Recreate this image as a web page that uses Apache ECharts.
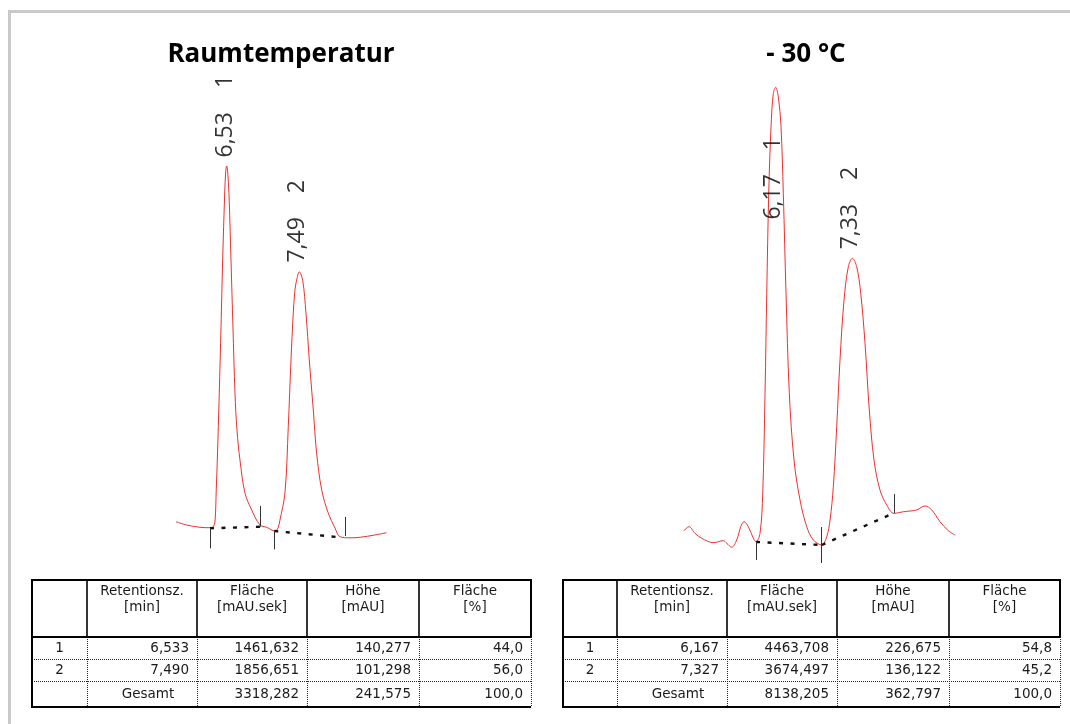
<!DOCTYPE html>
<html>
<head>
<meta charset="utf-8">
<script src="https://cdn.jsdelivr.net/npm/echarts@6/dist/echarts.min.js"></script>
<style>
  html, body { margin: 0; padding: 0; background: #fff; }
  #chart { width: 1070px; height: 724px; }
</style>
</head>
<body>
<div id="chart"></div>
<script>
// ---------- data ----------
const titles = ['Raumtemperatur', '- 30 °C'];

// chromatogram at room temperature: [time (min), signal (mAU)]
const roomTempTrace = [
  [5.859, 2.06], [6.001, 0.78], [6.177, -0.12], [6.309, -0.27], [6.349, 0.0],
  [6.375, 1.94], [6.392, 14.4], [6.406, 26.0], [6.432, 52.0], [6.455, 77.7],
  [6.477, 103.7], [6.504, 129.7], [6.517, 137.9], [6.530, 140.2], [6.543, 137.9],
  [6.560, 129.7], [6.587, 103.7], [6.613, 77.7], [6.640, 52.0], [6.666, 37.7],
  [6.706, 26.0], [6.772, 13.2], [6.861, 6.6], [6.970, 0.78], [7.059, -0.12],
  [7.169, -1.55], [7.209, -0.39], [7.235, 2.7], [7.301, 13.2], [7.345, 38.95],
  [7.381, 64.9], [7.411, 83.1], [7.433, 92.0], [7.456, 95.9], [7.490, 99.1],
  [7.535, 95.9], [7.579, 83.1], [7.623, 64.9], [7.676, 45.4], [7.720, 28.7],
  [7.787, 14.4], [7.874, 5.4], [7.963, -0.39], [8.029, -3.77], [8.161, -4.2],
  [8.293, -4.0], [8.492, -3.1], [8.646, -2.2]
];
// chromatogram at -30 °C
const coldTrace = [
  [4.778, 6.08], [4.853, 8.07], [4.944, 4.78], [5.046, 2.29], [5.222, 0.10],
  [5.373, 1.10], [5.425, -0.20], [5.500, -2.19], [5.576, 1.44], [5.637, 8.07],
  [5.687, 10.56], [5.752, 8.07], [5.828, 2.29], [5.869, 0.60], [5.929, 4.78],
  [5.970, 24.7], [6.005, 74.5], [6.031, 124.3], [6.061, 174.1], [6.096, 207.3],
  [6.131, 223.9], [6.167, 226.9], [6.206, 222.2], [6.247, 207.3], [6.282, 174.1],
  [6.323, 124.3], [6.373, 74.5], [6.444, 41.3], [6.535, 21.4], [6.637, 8.07],
  [6.737, 1.44], [6.864, -1.05], [6.940, 3.09], [6.990, 11.4], [7.040, 28.0],
  [7.091, 57.9], [7.141, 91.1], [7.202, 121.0], [7.267, 137.5], [7.328, 141.7],
  [7.394, 137.5], [7.455, 124.3], [7.520, 99.4], [7.585, 66.2], [7.656, 41.3],
  [7.747, 26.3], [7.849, 18.9], [7.959, 14.7], [8.100, 15.5], [8.303, 16.4],
  [8.429, 18.4], [8.531, 16.4], [8.656, 10.56], [8.782, 6.08], [8.884, 3.93]
];

// integration baselines: [[t1, v1], [t2, v2]]
const roomTempBaselines = [ [[6.309, -0.5], [6.970, 0.1]], [[7.160, -1.55], [8.07, -4.1]] ];
const coldBaselines = [ [[5.869, 0.45], [6.864, -1.05]], [[6.864, -1.05], [7.959, 14.9]] ];
// integration event marks: [t, v from, v to]
const roomTempMarks = [ [6.309, -0.5, -8.3], [6.970, 0.1, 8.2], [7.160, -1.55, -8.7], [8.095, -3.5, 3.9] ];
const coldMarks = [ [5.869, 0.6, -8.5], [6.864, 7.9, -10.0], [7.959, 14.9, 24.3] ];

// peak labels: [t, v, retention text, peak no.]
const roomTempLabels = [ [6.508, 143.5, '6,53', '1'], [7.460, 102.7, '7,49', '2'] ];
const coldLabels = [ [6.126, 161.0, '6,17', '1'], [7.292, 146.2, '7,33', '2'] ];

// result tables
const headerLine1 = ['', 'Retentionsz.', 'Fläche', 'Höhe', 'Fläche'];
const headerLine2 = ['', '[min]', '[mAU.sek]', '[mAU]', '[%]'];
const peakNumbers = ['1', '2'];
const roomRetention = [6.533, 7.490];
const roomArea = [1461.632, 1856.651];
const roomHeight = [140.277, 101.298];
const roomAreaPct = [44.0, 56.0];
const roomTotals = [3318.282, 241.575, 100.0];
const coldRetention = [6.167, 7.327];
const coldArea = [4463.708, 3674.497];
const coldHeight = [226.675, 136.122];
const coldAreaPct = [54.8, 45.2];
const coldTotals = [8138.205, 362.797, 100.0];
const totalLabel = 'Gesamt';

// ---------- helpers ----------
const fmt = (v, d) => v.toFixed(d).replace('.', ',');
const RED = '#ee3030';
const LABEL_FONT = 'Open Sans';

function markLineData(baselines, marks) {
  const out = [];
  baselines.forEach(b => out.push([
    { coord: b[0], lineStyle: { color: '#111', width: 2.4, type: [4, 7.5] } },
    { coord: b[1] }
  ]));
  marks.forEach(m => out.push([
    { coord: [m[0], m[1]], lineStyle: { color: '#333', width: 1, type: 'solid' } },
    { coord: [m[0], m[2]] }
  ]));
  return out;
}

function traceSeries(idx, trace, baselines, marks) {
  return {
    type: 'line', xAxisIndex: idx, yAxisIndex: idx,
    data: trace, showSymbol: false, smooth: 0.35,
    lineStyle: { color: RED, width: 1 }, silent: true, z: 3,
    markLine: {
      silent: true, symbol: ['none', 'none'], label: { show: false },
      animation: false, data: markLineData(baselines, marks)
    }
  };
}

function labelSeries(idx, labels) {
  return {
    type: 'scatter', xAxisIndex: idx, yAxisIndex: idx, symbolSize: 0.1, silent: true, z: 5,
    data: labels.map(l => ({ value: [l[0], l[1]], name: l[2], idx: l[3] })),
    label: {
      show: true, position: 'inside', rotate: 90, align: 'left', verticalAlign: 'middle',
      formatter: p => '{n|' + p.data.name + '}{i|' + p.data.idx + '}',
      rich: {
        n: { fontSize: 23, fontFamily: LABEL_FONT, color: '#000', textBorderWidth: 0 },
        i: { fontSize: 23, fontFamily: LABEL_FONT, color: '#000', textBorderWidth: 0, padding: [0, 0, 0, 24] }
      }
    }
  };
}

// table drawing with graphic elements
const TBL_FONT = 'DejaVu Sans';
const rowYs = [580, 637, 659, 681, 707];
function tableGraphics(colXs, retention, area, height, pct, totals) {
  const g = [];
  const x0 = colXs[0], x5 = colXs[colXs.length - 1];
  const solid = (x1, y1, x2, y2, w) => g.push({ type: 'line', shape: { x1, y1, x2, y2 }, style: { stroke: '#000', lineWidth: w } });
  const dotted = (x1, y1, x2, y2) => g.push({ type: 'line', shape: { x1, y1, x2, y2 }, style: { stroke: '#222', lineWidth: 1, lineDash: [1, 1] } });
  const txt = (x, y, text, align) => g.push({ type: 'text', x, y, style: { text, fill: '#1a1a1a', font: '13.5px "' + TBL_FONT + '"', align, verticalAlign: 'middle' } });
  dotted(x0, rowYs[2] + 0.5, x5, rowYs[2] + 0.5);
  dotted(x0, rowYs[3] + 0.5, x5, rowYs[3] + 0.5);
  for (let i = 1; i < colXs.length - 1; i++) {
    solid(colXs[i], rowYs[0], colXs[i], rowYs[1], 1.6);
    dotted(colXs[i] + 0.5, rowYs[1], colXs[i] + 0.5, rowYs[4]);
  }
  solid(x0, rowYs[0], x5, rowYs[0], 2);
  solid(x0, rowYs[1], x5, rowYs[1], 2);
  solid(x0, rowYs[4], x5, rowYs[4], 2);
  solid(x0, rowYs[0] - 1, x0, rowYs[4] + 1, 2);
  solid(x5, rowYs[0] - 1, x5, rowYs[1], 2);
  dotted(x5 + 0.5, rowYs[1], x5 + 0.5, rowYs[4]);
  for (let i = 1; i < colXs.length - 1; i++) {
    const cx = (colXs[i] + colXs[i + 1]) / 2;
    txt(cx, 591, headerLine1[i], 'center');
    txt(cx, 607, headerLine2[i], 'center');
  }
  const rowCY = [648.5, 670.5, 694.5];
  const pad = 8;
  for (let r = 0; r < 2; r++) {
    txt((colXs[0] + colXs[1]) / 2, rowCY[r], peakNumbers[r], 'center');
    txt(colXs[2] - pad, rowCY[r], fmt(retention[r], 3), 'right');
    txt(colXs[3] - pad, rowCY[r], fmt(area[r], 3), 'right');
    txt(colXs[4] - pad, rowCY[r], fmt(height[r], 3), 'right');
    txt(colXs[5] - pad, rowCY[r], fmt(pct[r], 1), 'right');
  }
  txt(colXs[1] + 61, rowCY[2], totalLabel, 'center');
  txt(colXs[3] - pad, rowCY[2], fmt(totals[0], 3), 'right');
  txt(colXs[4] - pad, rowCY[2], fmt(totals[1], 3), 'right');
  txt(colXs[5] - pad, rowCY[2], fmt(totals[2], 1), 'right');
  return g;
}

const frame = [
  { type: 'rect', shape: { x: 8, y: 10, width: 1062, height: 3 }, style: { fill: '#c9c9c9' } },
  { type: 'rect', shape: { x: 8, y: 10, width: 3, height: 714 }, style: { fill: '#c9c9c9' } }
];

const chart = echarts.init(document.getElementById('chart'), null, { renderer: 'canvas' });
chart.setOption({
  animation: false,
  backgroundColor: '#fff',
  title: [
    { text: titles[0], left: 276, top: 37, textAlign: 'center',
      textStyle: { fontFamily: 'Open Sans', fontWeight: 'bold', fontSize: 26, color: '#000' } },
    { text: titles[1], left: 801, top: 37, textAlign: 'center',
      textStyle: { fontFamily: 'Open Sans', fontWeight: 'bold', fontSize: 26, color: '#000' } }
  ],
  grid: [
    { left: 171.5, top: 140.75, width: 219.2, height: 412 },
    { left: 678.9, top: 61, width: 283.8, height: 512 }
  ],
  xAxis: [
    { type: 'value', gridIndex: 0, min: 5.8, max: 8.7, show: false },
    { type: 'value', gridIndex: 1, min: 4.7, max: 9.0, show: false }
  ],
  yAxis: [
    { type: 'value', gridIndex: 0, min: -10, max: 150, show: false },
    { type: 'value', gridIndex: 1, min: -15, max: 240, show: false }
  ],
  series: [
    traceSeries(0, roomTempTrace, roomTempBaselines, roomTempMarks),
    traceSeries(1, coldTrace, coldBaselines, coldMarks),
    labelSeries(0, roomTempLabels),
    labelSeries(1, coldLabels)
  ],
  graphic: frame
    .concat(tableGraphics([32, 87, 197, 307, 419, 531], roomRetention, roomArea, roomHeight, roomAreaPct, roomTotals))
    .concat(tableGraphics([563, 617, 727, 837, 949, 1060], coldRetention, coldArea, coldHeight, coldAreaPct, coldTotals))
});
</script>
</body>
</html>
